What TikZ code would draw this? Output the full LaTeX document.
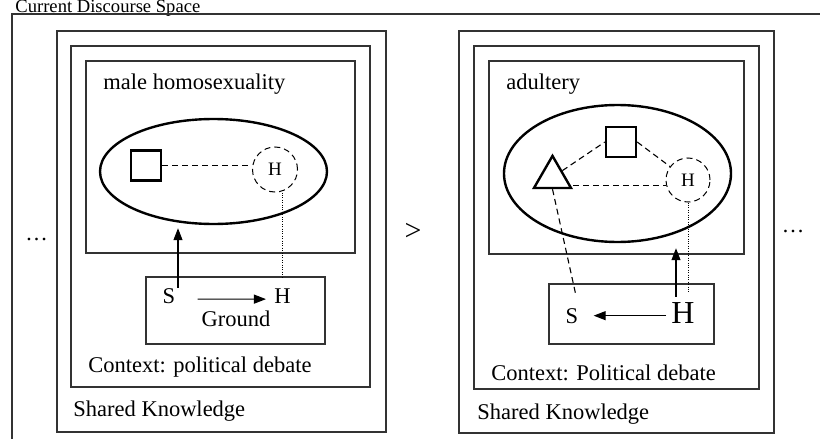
\documentclass[tikz,border=0pt]{standalone}
\usepackage{fontspec}
\setmainfont{Liberation Serif}
\usetikzlibrary{positioning,arrows.meta,shapes.geometric,calc}

\begin{document}
\begin{tikzpicture}[
      x=0.5pt, y=-0.5pt,
      font=\fontsize{11.25}{13.5}\selectfont,
      frame/.style={draw=black!80, line width=0.6pt, inner sep=0pt},
      blob/.style={draw, ellipse, line width=1.2pt, inner sep=0pt},
      thing/.style={draw, line width=1.2pt, inner sep=0pt, minimum size=15pt},
      hearer/.style={draw, circle, dash pattern=on 3pt off 2pt, line width=0.5pt,
                     inner sep=0pt, minimum size=22.5pt, font=\fontsize{9.5}{11}\selectfont},
      lbl/.style={inner sep=0pt, anchor=base west},
      who/.style={inner sep=0pt, anchor=base},
      flow/.style={-{Triangle[length=6pt, width=4.5pt]}, line width=0.55pt},
      link/.style={dash pattern=on 3pt off 2pt, line width=0.55pt},
      trace/.style={dash pattern=on 0.5pt off 0.7pt, line width=0.5pt},
    ]
    \useasboundingbox (0,0) rectangle (820,439);
    \node[lbl, font=\fontsize{9.3}{11}\selectfont] (title) at (15,12.5) {Current Discourse Space};
    \draw[line width=0.65pt, black!80] (12,450) -- (12,14) -- (830,14);
    \node[who] (dotsL) at (36.5,240.5) {\dots};
    \node[font=\fontsize{15}{18}\selectfont] (gt) at (413,232) {>};
    \node[who] (dotsR) at (793,232) {\dots};

    \node[frame, minimum width=164.5pt, minimum height=200.5pt] (knowL) at (221.5,231.5) {};
    \node[frame, minimum width=149.5pt, minimum height=170.5pt] (ctxL) at (220.5,216.5) {};
    \node[frame, minimum width=134.5pt, minimum height=96pt] (topL) at (220.5,157) {};
    \node[blob, minimum width=113.5pt, minimum height=52.5pt] (ellL) at (213.5,171.5) {};
    \node[thing] (sqL) at (146,165.5) {};
    \node[hearer] (hcL) at (275,169.5) {H};
    \node[frame, minimum width=89.5pt, minimum height=33.5pt] (grL) at (235.5,310.5) {};
    \node[lbl] (topicL) at (103,90) {male homosexuality};
    \node[who] (sL) at (169,303) {S};
    \node[who] (hL) at (282.5,303) {H};
    \node[who] (groundL) at (236,326) {Ground};
    \node[lbl] (ctxtxtL) at (88,372) {Context: political debate};
    \node[lbl] (sharedL) at (73,416) {Shared Knowledge};
    \draw[link] (sqL.east) -- (sqL.east -| hcL.west);
    \draw[trace, shorten >=5pt] (hL.north |- hcL.south) -- (hL.north);
    \draw[flow, shorten >=1.5pt] ([xshift=4.5pt]sL.north) -- ([xshift=4.5pt]sL.north |- ellL.south);
    \draw[flow, shorten <=11pt, shorten >=4pt] ([yshift=-1.75pt]sL.east) -- ([yshift=-1.75pt]hL.west);

    \node[frame, minimum width=157.5pt, minimum height=201pt] (knowR) at (616.5,232) {};
    \node[frame, minimum width=142.5pt, minimum height=171.5pt] (ctxR) at (616.5,217.5) {};
    \node[frame, minimum width=127.5pt, minimum height=96.5pt] (topR) at (616.5,157.5) {};
    \node[blob, minimum width=113.5pt, minimum height=68.5pt] (ellR) at (617.5,173.5) {};
    \node[thing] (sqR) at (621,142) {};
    \node[thing, regular polygon, regular polygon sides=3, minimum size=21.4pt] (triR) at (552.5,177.3) {};
    \node[hearer, minimum size=22pt] (hcR) at (688,180) {H};
    \node[frame, minimum width=82.5pt, minimum height=30pt] (grR) at (631.5,314) {};
    \node[lbl] (topicR) at (506,90) {adultery};
    \node[who] (sR) at (572,323) {S};
    \node[who, font=\fontsize{16}{19}\selectfont] (hR) at (683,323) {H};
    \node[lbl] (ctxtxtR) at (491,380) {Context: Political debate};
    \node[lbl] (sharedR) at (477,419) {Shared Knowledge};
    \draw[link] (triR) -- (sqR.west);
    \draw[link] (sqR.east) -- (hcR);
    \draw[link] ([yshift=2pt]triR.corner 3) -- ([yshift=2pt]triR.corner 3 -| hcR.west);
    \draw[link, shorten >=6pt] (triR.south) -- (sR.north east);
    \draw[trace, shorten >=4pt] (hcR.south) -- (hcR.south |- hR.north);
    \draw[flow, shorten <=2.5pt, shorten >=2.5pt] ([xshift=-3.5pt]hR.north) -- ([xshift=-3.5pt]hR.north |- ellR.south);
    \draw[flow, shorten <=2.5pt, shorten >=7.5pt] (sR.east -| hR.west) -- (sR.east);
  \end{tikzpicture}
\end{document}
